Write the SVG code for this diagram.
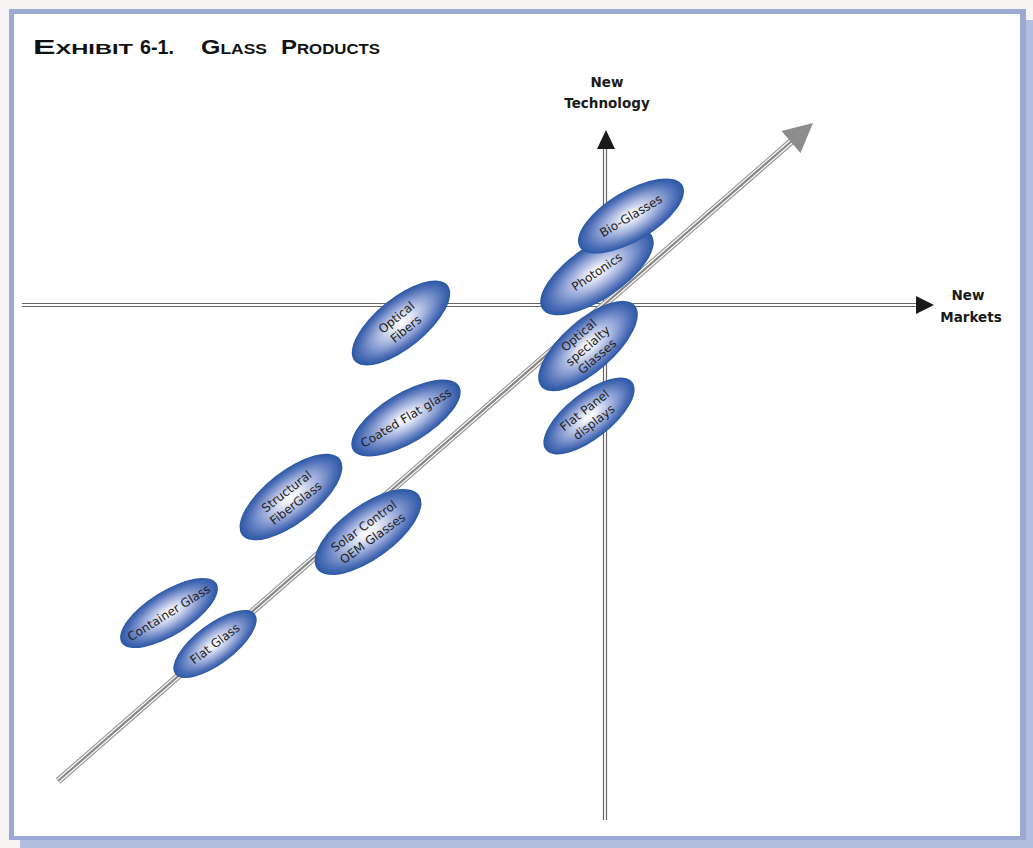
<svg xmlns="http://www.w3.org/2000/svg" width="1033" height="848" viewBox="0 0 1033 848">
<defs>
<radialGradient id="blob" cx="50%" cy="50%" r="50%">
<stop offset="0" stop-color="#ffffff"/>
<stop offset="0.15" stop-color="#eef1fa"/>
<stop offset="0.5" stop-color="#a2b1dd"/>
<stop offset="0.82" stop-color="#5272b9"/>
<stop offset="1" stop-color="#2a57a5"/>
</radialGradient>
<style>
.ax{stroke:#666666;stroke-width:1.2;fill:none}
.lbl{font-family:"DejaVu Sans","Liberation Sans",sans-serif;font-size:12px;fill:#222222;text-anchor:middle}
.axl{font-family:"DejaVu Sans","Liberation Sans",sans-serif;font-size:13.5px;font-weight:bold;fill:#1a1a1a;text-anchor:middle}
.ttl{font-family:"Liberation Sans",Arial,sans-serif;font-size:20px;font-weight:bold;font-variant:small-caps;fill:#111111}
.node ellipse{fill:url(#blob)}
</style>
</defs>
<rect x="0" y="0" width="1033" height="848" fill="#f7f5f3"/>
<rect x="20" y="20" width="1013" height="828" fill="#b3bedf"/>
<rect x="9" y="9" width="1017" height="831" fill="#9ca9d2"/>
<rect x="14" y="14" width="1006" height="822" fill="#ffffff"/>
<g id="title">
<text class="ttl" x="33" y="54" textLength="100" lengthAdjust="spacingAndGlyphs">Exhibit</text>
<text class="ttl" x="140" y="54" textLength="34" lengthAdjust="spacingAndGlyphs">6-1.</text>
<text class="ttl" x="201" y="54" textLength="66" lengthAdjust="spacingAndGlyphs">Glass</text>
<text class="ttl" x="281" y="54" textLength="99" lengthAdjust="spacingAndGlyphs">Products</text>
</g>
<g id="connectors">
<g id="axis-markets">
<line class="ax" x1="22" y1="303.5" x2="918" y2="303.5"/>
<line class="ax" x1="22" y1="306.5" x2="918" y2="306.5"/>
<polygon points="916,296 934,305 916,314" fill="#1a1a1a"/>
</g>
<g id="axis-technology">
<line class="ax" x1="603.5" y1="148" x2="603.5" y2="820"/>
<line class="ax" x1="606.5" y1="148" x2="606.5" y2="820"/>
<polygon points="597,149 606,130 615,149" fill="#1a1a1a"/>
</g>
<g id="diagonal">
<line x1="58" y1="781" x2="793" y2="140" stroke="#999999" stroke-width="7"/>
<line x1="58" y1="781" x2="793" y2="140" stroke="#ffffff" stroke-width="4.6"/>
<line x1="58" y1="781" x2="793" y2="140" stroke="#888888" stroke-width="2.2"/>
<polygon points="813,123 800.5,152.9 781.5,131.1" fill="#8c8c8c"/>
</g>
</g>
<text class="axl" x="607" y="87">New</text>
<text class="axl" x="607" y="108">Technology</text>
<text class="axl" x="968" y="300">New</text>
<text class="axl" x="971" y="322">Markets</text>
<g id="container-glass" class="node" transform="translate(169,613) rotate(-32)"><ellipse rx="56" ry="22"/><text class="lbl" y="4">Container Glass</text></g>
<g id="flat-glass" class="node" transform="translate(215,644) rotate(-37)"><ellipse rx="50" ry="20"/><text class="lbl" y="4">Flat Glass</text></g>
<g id="structural-fiberglass" class="node" transform="translate(291,497) rotate(-38)"><ellipse rx="62" ry="26"/><text class="lbl" y="-3">Structural</text><text class="lbl" y="12">FiberGlass</text></g>
<g id="solar-control" class="node" transform="translate(368,532) rotate(-36)"><ellipse rx="63" ry="27"/><text class="lbl" y="-3">Solar Control</text><text class="lbl" y="12">OEM Glasses</text></g>
<g id="coated-flat-glass" class="node" transform="translate(406,418) rotate(-31)"><ellipse rx="62" ry="25"/><text class="lbl" y="4">Coated Flat glass</text></g>
<g id="optical-fibers" class="node" transform="translate(401,323) rotate(-39)"><ellipse rx="60" ry="25"/><text class="lbl" y="-3">Optical</text><text class="lbl" y="12">Fibers</text></g>
<g id="photonics" class="node" transform="translate(597,272) rotate(-34)"><ellipse rx="66" ry="27"/><text class="lbl" y="4">Photonics</text></g>
<g id="bio-glasses" class="node" transform="translate(631,216) rotate(-31)"><ellipse rx="60" ry="25"/><text class="lbl" y="4">Bio-Glasses</text></g>
<g id="optical-specialty" class="node" transform="translate(588,346) rotate(-41)"><ellipse rx="62" ry="26"/><text class="lbl" y="-10">Optical</text><text class="lbl" y="4">specialty</text><text class="lbl" y="18">Glasses</text></g>
<g id="flat-panel" class="node" transform="translate(589,416) rotate(-38)"><ellipse rx="55" ry="23"/><text class="lbl" y="-3">Flat Panel</text><text class="lbl" y="12">displays</text></g>
</svg>
